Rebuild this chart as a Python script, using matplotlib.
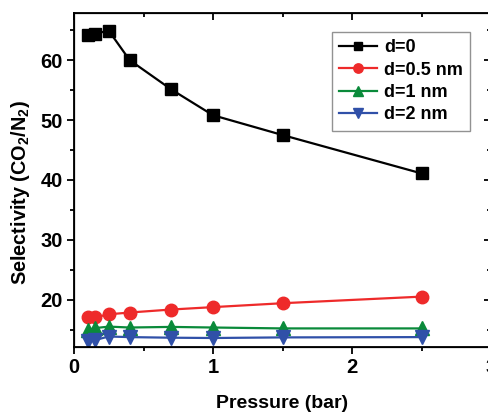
import matplotlib
matplotlib.use("Agg")
import matplotlib.pyplot as plt
from matplotlib.ticker import MultipleLocator

plt.rcParams['font.family'] = ['Liberation Sans', 'DejaVu Sans']
plt.rcParams['mathtext.fontset'] = 'custom'
plt.rcParams['mathtext.rm'] = 'Liberation Sans:bold'
plt.rcParams['mathtext.it'] = 'Liberation Sans:bold'
plt.rcParams['mathtext.bf'] = 'Liberation Sans:bold'

pressure = [0.1, 0.15, 0.25, 0.4, 0.7, 1.0, 1.5, 2.5]
d0 = [64.2, 64.4, 64.9, 60.0, 55.1, 50.8, 47.5, 41.1]
d05 = [17.1, 17.1, 17.6, 17.9, 18.4, 18.8, 19.45, 20.55]
d1 = [15.0, 15.3, 15.55, 15.4, 15.5, 15.4, 15.25, 15.25]
d2 = [13.2, 13.3, 13.9, 13.8, 13.7, 13.65, 13.75, 13.8]
labels = ['d=0', 'd=0.5 nm', 'd=1 nm', 'd=2 nm']

fig = plt.figure(figsize=(4.88, 4.12), dpi=100)
ax = fig.add_axes([74/488, 1-346.7/412, (491-74)/488, (346.7-12.7)/412])

ax.plot(pressure, d0, '-s', color='black', lw=1.6, ms=8.5, label=labels[0])
ax.plot(pressure, d05, '-o', color='#ee2a2a', lw=1.6, ms=9, label=labels[1])
ax.plot(pressure, d1, '-^', color='#0a8a3a', lw=1.6, ms=9.5, label=labels[2])
ax.plot(pressure, d2, '-v', color='#3050a8', lw=1.6, ms=9.5, label=labels[3])

ax.set_xlim(0, 3)
ax.set_ylim(12.2, 67.9)
ax.xaxis.set_major_locator(MultipleLocator(1))
ax.xaxis.set_minor_locator(MultipleLocator(0.5))
ax.set_yticks([20, 30, 40, 50, 60])
ax.yaxis.set_minor_locator(MultipleLocator(5))

ax.tick_params(which='both', direction='out', width=1.3, labelsize=14.5, pad=3,
               top=False, right=False)
ax.tick_params(which='major', length=5)
ax.tick_params(which='minor', length=3)
for lab in ax.get_xticklabels() + ax.get_yticklabels():
    lab.set_fontweight('bold')
for spine in ax.spines.values():
    spine.set_linewidth(1.3)

# inward mirrored ticks on top/right
axt = ax.twiny()
axt.set_xlim(ax.get_xlim())
axt.xaxis.set_major_locator(MultipleLocator(1))
axt.xaxis.set_minor_locator(MultipleLocator(0.5))
axt.tick_params(axis='x', which='both', direction='in', width=1.3, labeltop=False)
axt.tick_params(axis='x', which='major', length=5)
axt.tick_params(axis='x', which='minor', length=3)
axr = ax.twinx()
axr.set_ylim(ax.get_ylim())
axr.set_yticks([20, 30, 40, 50, 60])
axr.yaxis.set_minor_locator(MultipleLocator(5))
axr.tick_params(axis='y', which='both', direction='in', width=1.3, labelright=False)
axr.tick_params(axis='y', which='major', length=5)
axr.tick_params(axis='y', which='minor', length=3)

ax.set_xlabel('Pressure (bar)', fontsize=14, fontweight='bold', labelpad=13)
ax.set_ylabel(r'Selectivity (CO$_2$/N$_2$)', fontsize=14.3, fontweight='bold')
ax.yaxis.set_label_coords(-0.10, 0.46)

leg = ax.legend(loc='upper right', bbox_to_anchor=((470-74)/417, (346.7-32)/334),
                frameon=True, fancybox=False, edgecolor='#777777',
                handlelength=2.1, handletextpad=0.4, borderpad=0.4, labelspacing=0.3,
                markerscale=0.75, borderaxespad=0,
                prop={'weight': 'bold', 'size': 13})
leg.get_frame().set_linewidth(1.0)

fig.savefig('out.png', dpi=100)
